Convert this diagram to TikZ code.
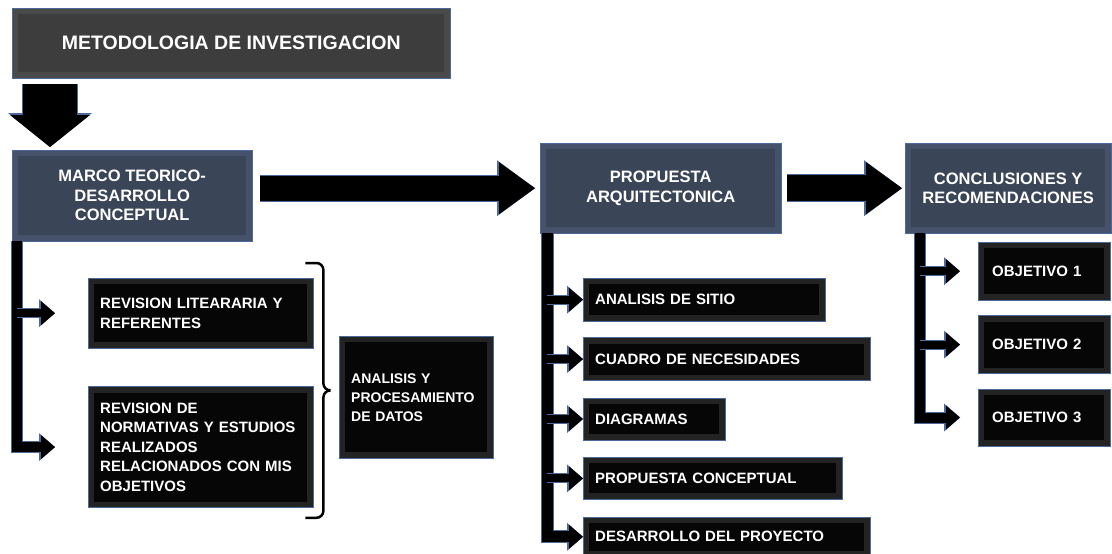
\documentclass[tikz,border=0pt]{standalone}
\usepackage{fontspec}
\setmainfont{Liberation Sans}
\usetikzlibrary{arrows.meta, positioning, calc}

\definecolor{edgeblue}{HTML}{4A6A9C}
\definecolor{titlegray}{HTML}{4A4A4A}
\definecolor{titlecore}{HTML}{3D3D3D}
\definecolor{slate}{HTML}{465269}
\definecolor{slatecore}{HTML}{3A4557}
\definecolor{boxrim}{HTML}{232323}
\definecolor{boxcore}{HTML}{060606}

\begin{document}
\begin{tikzpicture}[
    x=1pt, y=-1pt,
    every node/.style={text=white, font=\bfseries},
    bevelbox/.style={path picture={\fill[#1] ([shift={(6pt,-6pt)}]path picture bounding box.north west) rectangle ([shift={(-6pt,6pt)}]path picture bounding box.south east);}},
    titlebox/.style={rectangle, draw=edgeblue, fill=titlegray, bevelbox=titlecore, anchor=north west, inner sep=0pt, font=\bfseries\fontsize{19.5}{23}\selectfont},
    head/.style={rectangle, draw=edgeblue, fill=slate, bevelbox=slatecore, anchor=north west, align=center, inner sep=0pt, font=\bfseries\fontsize{16.5}{19.5}\selectfont},
    item/.style={rectangle, draw=edgeblue, fill=boxrim, bevelbox=boxcore, anchor=north west, align=left, inner xsep=12pt, inner ysep=0pt, font=\bfseries\fontsize{15}{19.5}\selectfont},
    branch/.style={line width=#1, line join=miter, -{Triangle[width=24pt,length=14pt,line width=0pt]},
        preaction={draw=edgeblue, line width=#1+2pt, -{Triangle[width=28pt,length=16pt,line width=0pt]}}},
    branch/.default=8pt,
    bigarrow/.style={line width=#1, -{Triangle[width=52pt,length=36pt,line width=0pt]},
        preaction={draw=edgeblue, line width=#1+2pt, -{Triangle[width=56pt,length=38pt,line width=0pt]}}},
    bracket/.style={line width=2.5pt, rounded corners=7pt},
]
\useasboundingbox (0,0) rectangle (1112,554);

% --- Title ---
\node[titlebox, minimum width=438pt, minimum height=70pt] (title) at (12,8) {METODOLOGIA DE INVESTIGACION};

% --- Stages ---
\node[head, minimum width=240pt, minimum height=91pt] (marco) at (12,150) {MARCO TEORICO-\\DESARROLLO\\CONCEPTUAL};
\node[head, minimum width=241pt, minimum height=90pt] (prop) at (540,143) {PROPUESTA\\ARQUITECTONICA};
\node[head, minimum width=206pt, minimum height=90pt] (concl) at (905,143) {CONCLUSIONES Y\\RECOMENDACIONES};

% --- Marco teorico items ---
\node[item, text width=201pt, minimum height=70pt] (rev1) at (88,278) {REVISION LITEARARIA Y\\REFERENTES};
\node[item, text width=201pt, minimum height=121pt, below=38pt of rev1.south west, anchor=north west] (rev2) {REVISION DE\\NORMATIVAS Y ESTUDIOS\\REALIZADOS\\RELACIONADOS CON MIS\\OBJETIVOS};
\node[item, text width=130pt, minimum height=122pt, font=\bfseries\fontsize{14}{19}\selectfont] (datos) at (339,336) {ANALISIS Y\\PROCESAMIENTO\\DE DATOS};

% --- Propuesta items ---
\node[item, text width=218pt, minimum height=43pt] (sitio) at (583,278) {ANALISIS DE SITIO};
\node[item, text width=263pt, minimum height=43pt, below=16pt of sitio.south west, anchor=north west] (cuadro) {CUADRO DE NECESIDADES};
\node[item, text width=118pt, minimum height=42pt, below=17pt of cuadro.south west, anchor=north west] (diag) {DIAGRAMAS};
\node[item, text width=235pt, minimum height=42pt, below=17pt of diag.south west, anchor=north west] (concep) {PROPUESTA CONCEPTUAL};
\node[item, text width=263pt, minimum height=40pt, below=17pt of concep.south west, anchor=north west] (desarr) {DESARROLLO DEL PROYECTO};

% --- Objetivos ---
\node[item, inner xsep=14pt, text width=104pt, minimum height=58pt] (obj1) at (978,242) {OBJETIVO 1};
\node[item, inner xsep=14pt, text width=104pt, minimum height=58pt, below=15pt of obj1.south west, anchor=north west] (obj2) {OBJETIVO 2};
\node[item, inner xsep=14pt, text width=104pt, minimum height=57pt, below=15pt of obj2.south west, anchor=north west] (obj3) {OBJETIVO 3};

% --- Main flow ---
\draw[line width=54pt, shorten <=6pt, shorten >=3pt, -{Triangle[width=80pt,length=32pt,line width=0pt]},
    preaction={draw=edgeblue, line width=56pt, -{Triangle[width=84pt,length=34pt,line width=0pt]}}]
    ([xshift=38pt]title.south west) -- ([xshift=38pt]marco.north west);
\draw[bigarrow=25pt, shorten <=8pt, shorten >=5pt] (marco.east |- prop.west) -- (prop.west);
\draw[bigarrow=26pt, shorten <=6pt, shorten >=3pt] (prop.east) -- (concl.west);

% --- Marco teorico branches ---
\coordinate (mt) at ([xshift=5pt]marco.south west);
\draw[branch=10pt, shorten >=33pt] (mt) |- (rev2.west);
\draw[branch, shorten >=33pt] (mt |- rev1.west) -- (rev1.west);

% --- Bracket to analisis ---
\coordinate (bt) at ([shift={(-8pt,15pt)}]rev1.north east);
\coordinate (bb) at ([shift={(-8pt,-10pt)}]rev2.south east);
\coordinate (bm) at ($(bt)!.5!(bb)$);
\draw[bracket] (bt) -- ([xshift=18pt]bt) -- ([xshift=18pt]bm) -- ([xshift=25pt]bm);
\draw[bracket] (bb) -- ([xshift=18pt]bb) -- ([xshift=18pt]bm) -- ([xshift=25pt]bm);

% --- Propuesta branches ---
\coordinate (pt) at ([xshift=7pt]prop.south west);
\draw[branch=11pt] (pt) |- (desarr.west);
\foreach \n in {sitio, cuadro, diag, concep}
    \draw[branch] (pt |- \n.west) -- (\n.west);

% --- Conclusiones branches ---
\coordinate (ct) at ([xshift=15pt]concl.south west);
\draw[branch=10pt, shorten >=18pt] (ct) |- (obj3.west);
\foreach \n in {obj1, obj2}
    \draw[branch, shorten >=18pt] (ct |- \n.west) -- (\n.west);

\end{tikzpicture}
\end{document}
